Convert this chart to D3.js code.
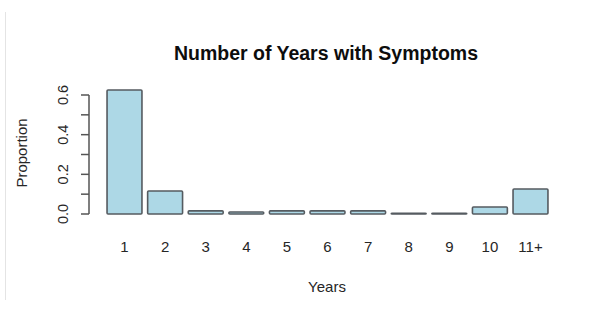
<!DOCTYPE html>
<html>
<head>
<meta charset="utf-8">
<script src="https://cdn.jsdelivr.net/npm/d3@7"></script>
<style>
  html, body { margin: 0; padding: 0; background: #fff; }
  svg { display: block; font-family: Arial, 'Liberation Sans', sans-serif; }
</style>
</head>
<body>
<div id="chart"></div>
<script>
var years       = ['1', '2', '3', '4', '5', '6', '7', '8', '9', '10', '11+'];
var proportions = [0.625, 0.116, 0.016, 0.010, 0.016, 0.016, 0.016, 0.003, 0.003, 0.035, 0.126];
var yTicks      = [0, 0.1, 0.2, 0.3, 0.4, 0.5, 0.6];
var yLabels     = [0, 0.2, 0.4, 0.6];

(function () {
  'use strict';

  var COL = {
    fill:   '#add8e6',
    stroke: '#555b60',
    axis:   '#555555',
    text:   '#262626',
    frame:  '#e4e4e4'
  };

  var W = 606, H = 313;

  var svg = d3.select('#chart').append('svg')
    .attr('width', W).attr('height', H);

  // faint frame line on the left of the figure
  svg.append('line')
    .attr('x1', 5.5).attr('x2', 5.5)
    .attr('y1', 12).attr('y2', 300)
    .attr('stroke', COL.frame).attr('stroke-width', 1);

  var x = d3.scaleBand()
    .domain(years)
    .range([104.2, 550.8])
    .paddingInner(0.14)
    .paddingOuter(0.07);

  var y = d3.scaleLinear().domain([0, 0.6]).range([214, 95]);

  // bars
  svg.selectAll('rect.bar').data(years).join('rect')
    .attr('class', 'bar')
    .attr('x', function (d) { return x(d); })
    .attr('width', x.bandwidth())
    .attr('y', function (d, i) { return y(proportions[i]); })
    .attr('height', function (d, i) { return y(0) - y(proportions[i]); })
    .attr('fill', COL.fill)
    .attr('stroke', COL.stroke)
    .attr('stroke-width', 1.6)
    .attr('rx', 1);

  // y axis (R style: ticks on the left, labels parallel to axis)
  var ax = svg.append('g').attr('transform', 'translate(89,0)');
  ax.append('line')
    .attr('x1', 0).attr('x2', 0)
    .attr('y1', y(0)).attr('y2', y(0.6))
    .attr('stroke', COL.axis).attr('stroke-width', 1.5);
  yTicks.forEach(function (v) {
    ax.append('line')
      .attr('x1', -8).attr('x2', 0)
      .attr('y1', y(v)).attr('y2', y(v))
      .attr('stroke', COL.axis).attr('stroke-width', 1.5);
  });
  yLabels.forEach(function (v) {
    ax.append('text')
      .attr('transform', 'translate(-21,' + y(v) + ') rotate(-90)')
      .attr('text-anchor', 'middle')
      .attr('font-size', 14.5)
      .attr('fill', COL.text)
      .text(d3.format('.1f')(v));
  });

  // x category labels
  svg.selectAll('text.cat').data(years).join('text')
    .attr('class', 'cat')
    .attr('x', function (d) { return x(d) + x.bandwidth() / 2; })
    .attr('y', 252)
    .attr('text-anchor', 'middle')
    .attr('font-size', 15)
    .attr('fill', COL.text)
    .text(function (d) { return d; });

  // titles
  svg.append('text')
    .attr('x', 326).attr('y', 60)
    .attr('text-anchor', 'middle')
    .attr('font-size', 19.5).attr('font-weight', 'bold')
    .attr('fill', '#0d0d0d')
    .text('Number of Years with Symptoms');

  svg.append('text')
    .attr('x', 327).attr('y', 292)
    .attr('text-anchor', 'middle')
    .attr('font-size', 15)
    .attr('fill', COL.text)
    .text('Years');

  svg.append('text')
    .attr('transform', 'translate(27,153) rotate(-90)')
    .attr('text-anchor', 'middle')
    .attr('font-size', 15)
    .attr('fill', COL.text)
    .text('Proportion');
}());
</script>
</body>
</html>
